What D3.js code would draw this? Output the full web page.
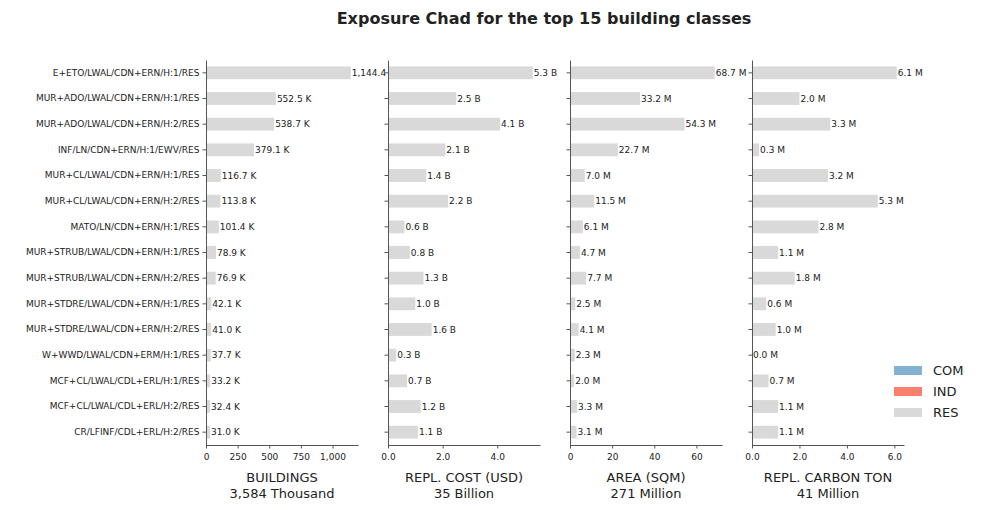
<!DOCTYPE html>
<html><head><meta charset="utf-8">
<script src="https://cdn.jsdelivr.net/npm/d3@7"></script>
<style>body{margin:0;background:#fff}text{font-family:"DejaVu Sans",sans-serif;fill:#222}</style>
</head><body><svg id="c" width="981" height="510"></svg>
<script>
const categories=["E+ETO/LWAL/CDN+ERN/H:1/RES","MUR+ADO/LWAL/CDN+ERN/H:1/RES","MUR+ADO/LWAL/CDN+ERN/H:2/RES","INF/LN/CDN+ERN/H:1/EWV/RES","MUR+CL/LWAL/CDN+ERN/H:1/RES","MUR+CL/LWAL/CDN+ERN/H:2/RES","MATO/LN/CDN+ERN/H:1/RES","MUR+STRUB/LWAL/CDN+ERN/H:1/RES","MUR+STRUB/LWAL/CDN+ERN/H:2/RES","MUR+STDRE/LWAL/CDN+ERN/H:1/RES","MUR+STDRE/LWAL/CDN+ERN/H:2/RES","W+WWD/LWAL/CDN+ERM/H:1/RES","MCF+CL/LWAL/CDL+ERL/H:1/RES","MCF+CL/LWAL/CDL+ERL/H:2/RES","CR/LFINF/CDL+ERL/H:2/RES"];
const buildings=[1144.4,552.5,538.7,379.1,116.7,113.8,101.4,78.9,76.9,42.1,41.0,37.7,33.2,32.4,31.0];
const cost=[5.3,2.5,4.1,2.1,1.4,2.2,0.6,0.8,1.3,1.0,1.6,0.3,0.7,1.2,1.1];
const area=[68.7,33.2,54.3,22.7,7.0,11.5,6.1,4.7,7.7,2.5,4.1,2.3,2.0,3.3,3.1];
const carbon=[6.1,2.0,3.3,0.3,3.2,5.3,2.8,1.1,1.8,0.6,1.0,0.0,0.7,1.1,1.1];
const panels=[
 {vals:buildings,unit:"K",fmt:d3.format(",.1f"),ticks:[0,250,500,750,1000],t1:"BUILDINGS",t2:"3,584 Thousand"},
 {vals:cost,unit:"B",fmt:d3.format(".1f"),ticks:[0,2,4],t1:"REPL. COST (USD)",t2:"35 Billion"},
 {vals:area,unit:"M",fmt:d3.format(".1f"),ticks:[0,20,40,60],t1:"AREA (SQM)",t2:"271 Million"},
 {vals:carbon,unit:"M",fmt:d3.format(".1f"),ticks:[0,2,4,6],t1:"REPL. CARBON TON",t2:"41 Million"}];
const legend=[["COM","#82b1d3"],["IND","#f8806d"],["RES","#d9d9d9"]];
const svg=d3.select("#c");
svg.append("text").attr("x",544).attr("y",24).attr("text-anchor","middle").style("font-size","16px").style("font-weight","bold").text("Exposure Chad for the top 15 building classes");
const yTop=60,yBot=445,pw=152;
const y=d3.scaleBand().domain(categories).range([yTop,yBot]).paddingInner(0.5).paddingOuter(0.25);
panels.forEach((p,i)=>{
 const x0=206+i*182;
 const g=svg.append("g").attr("transform",`translate(${x0},0)`);
 g.append("rect").attr("x",0).attr("y",yTop).attr("width",pw).attr("height",yBot-yTop).attr("fill","#fff");
 const x=d3.scaleLinear().domain([0,d3.max(p.vals)*1.05]).range([0,pw]);
 g.selectAll("rect.b").data(p.vals).join("rect").attr("class","b").attr("x",0).attr("y",(d,j)=>y(categories[j])).attr("width",d=>x(d)).attr("height",y.bandwidth()).attr("fill","#d9d9d9");
 g.selectAll("text.v").data(p.vals).join("text").attr("class","v").attr("x",d=>x(d)+1).attr("y",(d,j)=>y(categories[j])+y.bandwidth()/2).attr("dy","0.35em").style("font-size","9px").text(d=>p.fmt(d)+" "+p.unit);
 const xa=g.append("g").attr("transform",`translate(0,${yBot})`).call(d3.axisBottom(x).tickValues(p.ticks).tickSize(3.5).tickSizeOuter(0));
 xa.selectAll("text").style("font-size","9px").attr("dy","0.9em");
 const ya=g.append("g").call(d3.axisLeft(y).tickSize(3.5).tickSizeOuter(0).tickFormat(i===0?(d=>d):""));
 ya.selectAll("text").style("font-size","9px");
 g.selectAll(".domain").attr("stroke","#555");
 g.selectAll(".tick line").attr("stroke","#555");
 g.append("text").attr("x",pw/2).attr("y",482).attr("text-anchor","middle").style("font-size","13px").text(p.t1);
 g.append("text").attr("x",pw/2).attr("y",498).attr("text-anchor","middle").style("font-size","13px").text(p.t2);
});
legend.forEach((l,i)=>{
 const yy=370+i*21;
 svg.append("rect").attr("x",894).attr("y",yy-4).attr("width",28).attr("height",9).attr("fill",l[1]);
 svg.append("text").attr("x",933).attr("y",yy).attr("dy","0.35em").style("font-size","13px").text(l[0]);
});
</script></body></html>
